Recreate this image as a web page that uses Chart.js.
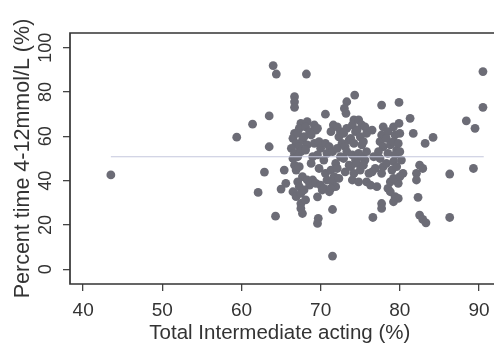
<!DOCTYPE html>
<html>
<head>
<meta charset="utf-8">
<script src="https://cdn.jsdelivr.net/npm/chart.js@4/dist/chart.umd.min.js"></script>
<style>
html,body{margin:0;padding:0;background:#fff;}
#wrap{width:494px;height:352px;position:relative;}
</style>
</head>
<body>
<div id="wrap"><canvas id="c" width="494" height="352"></canvas></div>
<script>
const xTickLabels = [40, 50, 60, 70, 80, 90];
const yTickLabels = [0, 20, 40, 60, 80, 100];
const xAxisTitle = 'Total Intermediate acting (%)';
const yAxisTitle = 'Percent time 4-12mmol/L (%)';

// Total intermediate acting (%) for each patient
const intermediatePct = [
  43.5,59.4,61.4,63.5,64.0,64.4,68.2,90.5,66.7,66.7,66.7,74.3,73.3,73.0,73.2,77.7,79.9,90.5,70.6,81.3,
  88.4,89.5,81.7,84.2,83.2,63.5,89.3,86.3,62.9,62.1,65.0,65.6,64.3,69.6,71.5,69.7,69.6,76.6,77.7,77.7,
  82.3,82.5,82.9,83.3,86.3,71.5,
  82.5,82.9,82.1,82.1,65.4,79.8,79.8,
  66.7,66.5,66.9,66.3,66.7,66.5,66.7,66.9,66.5,66.9,
  67.5,67.3,67.1,67.7,67.3,67.5,67.1,67.3,67.7,67.1,67.3,67.5,67.5,67.5,67.7,
  68.3,68.1,68.6,67.9,68.3,68.1,68.3,68.6,67.9,68.1,
  69.2,69.4,68.8,69.2,69.0,68.8,69.0,69.4,
  69.6,69.8,70.0,69.6,69.8,70.0,70.2,
  70.6,71.1,70.8,70.4,70.6,70.8,70.4,71.1,
  71.6,71.3,71.5,71.9,71.3,71.7,71.5,71.9,71.3,
  72.1,72.5,72.3,72.7,72.1,72.5,72.1,72.3,
  73.3,72.9,73.6,73.1,73.3,72.9,73.6,73.1,
  74.2,74.0,74.4,73.8,74.2,74.0,74.4,73.8,74.2,74.0,
  74.8,75.2,74.6,75.0,75.2,74.8,75.2,74.6,75.0,74.8,
  75.6,75.8,75.4,75.8,75.6,75.4,76.1,75.8,76.3,
  76.5,76.7,76.9,76.5,77.1,
  77.9,77.7,77.5,77.9,77.3,77.5,77.9,77.7,
  78.5,78.3,78.8,78.5,78.3,79.0,78.8,78.5,
  79.2,79.4,79.2,79.6,79.4,79.2,79.6,79.2,78.8,79.4,79.2,
  79.9,80.0,79.8,80.0,80.2,80.4,80.0
];

// Percent time 4-12 mmol/L for each patient
const timeInRangePct = [
  42.6,59.6,65.5,69.2,91.9,88.1,88.1,89.2,77.9,75.6,73.1,78.6,75.6,72.6,70.4,74.1,75.3,73.1,70.0,68.1,
  67.0,63.6,61.3,59.5,56.8,55.3,45.5,43.0,43.9,34.7,36.2,38.8,24.0,32.7,27.0,23.0,20.7,23.4,29.7,27.5,
  32.5,24.5,22.5,21.0,23.4,6.0,
  47.0,45.5,43.3,40.3,44.8,32.0,38.8,
  61.3,59.1,56.8,54.6,52.3,50.0,47.0,44.8,35.0,32.8,
  65.8,63.6,61.3,58.3,55.3,53.1,50.8,46.3,41.8,39.5,37.3,34.3,29.7,27.5,25.2,
  66.6,64.3,62.1,59.8,56.1,53.8,40.3,38.0,35.8,31.3,
  65.1,62.8,60.6,56.8,50.8,47.8,40.3,38.8,
  63.6,57.6,54.6,51.6,45.5,38.0,35.8,
  56.8,55.3,52.3,49.3,43.3,40.3,36.5,35.0,
  65.1,62.1,53.1,47.8,44.8,41.8,39.5,37.3,36.5,
  64.3,62.1,59.8,56.8,54.6,50.8,45.5,41.0,
  63.6,61.3,58.3,55.3,53.1,50.0,47.0,44.0,
  67.4,65.1,62.1,59.1,56.8,51.6,49.3,46.3,43.3,40.3,
  67.4,65.1,62.8,59.8,56.1,52.3,50.8,47.8,44.8,39.5,
  64.3,61.3,57.6,53.1,49.3,47.0,43.3,39.5,38.0,
  62.8,50.8,45.5,44.0,37.3,
  64.3,60.6,57.6,55.3,53.1,50.0,46.3,43.3,
  62.1,59.1,56.1,52.3,47.8,44.8,39.5,36.5,
  64.3,60.6,57.6,53.8,51.6,48.6,46.3,41.0,35.0,32.8,30.5,
  65.8,61.3,56.8,53.1,49.3,43.3,41.8
];

// Fitted (flat) line
const fitLineX = [43.5, 90.6];
const fitLineY = [50.8, 50.8];

const FONT = '"Liberation Sans", Arial, Helvetica, sans-serif';
const TEXT = '#333333';

const points = intermediatePct.map((x, i) => ({x: x, y: timeInRangePct[i]}));
const fitPoints = fitLineX.map((x, i) => ({x: x, y: fitLineY[i]}));

const bgPlugin = {
  id: 'bg',
  beforeDraw(c) {
    const ctx = c.ctx;
    ctx.save();
    ctx.fillStyle = '#ffffff';
    ctx.fillRect(0, 0, c.width, c.height);
    ctx.restore();
  }
};

const framePlugin = {
  id: 'frame',
  afterDraw(c) {
    const {left, top, bottom} = c.chartArea;
    const ctx = c.ctx;
    const w = c.width;
    ctx.save();
    ctx.strokeStyle = '#333333';
    ctx.lineWidth = 1.7;
    ctx.beginPath();
    ctx.moveTo(w, top);
    ctx.lineTo(left, top);
    ctx.lineTo(left, bottom);
    ctx.lineTo(w, bottom);
    ctx.stroke();
    // rotated y tick labels
    const ys = c.scales.y;
    ctx.fillStyle = TEXT;
    ctx.font = '18px ' + FONT;
    ctx.textAlign = 'center';
    ctx.textBaseline = 'middle';
    yTickLabels.forEach(v => {
      const py = ys.getPixelForValue(v);
      ctx.save();
      ctx.translate(46, py);
      ctx.rotate(-Math.PI / 2);
      ctx.fillText(String(v), 0, 0);
      ctx.restore();
    });
    ctx.restore();
  }
};

new Chart(document.getElementById('c'), {
  type: 'scatter',
  data: {
    datasets: [
      {
        data: fitPoints,
        showLine: true,
        borderColor: '#c4c7dd',
        borderWidth: 1.2,
        pointRadius: 0,
        order: 0,
        clip: false
      },
      {
        data: points,
        backgroundColor: '#6c6c76',
        borderWidth: 0,
        pointRadius: 4.4,
        order: 1,
        clip: false
      }
    ]
  },
  options: {
    responsive: false,
    animation: false,
    layout: {padding: {top: 33, right: -5, left: 0, bottom: 0}},
    plugins: {legend: {display: false}, tooltip: {enabled: false}},
    scales: {
      x: {
        type: 'linear',
        min: 38.34,
        max: 91.34,
        afterBuildTicks: s => { s.ticks = xTickLabels.map(v => ({value: v})); },
        afterFit: s => { s.height = 68; s.paddingLeft = 0; s.paddingRight = 0; },
        border: {display: false},
        grid: {drawOnChartArea: false, drawTicks: true, tickLength: 7, color: '#444444', lineWidth: 1.3},
        ticks: {
          font: {size: 19, family: FONT},
          color: TEXT,
          padding: 8,
          maxRotation: 0,
          autoSkip: false,
          callback: v => String(v)
        },
        title: {
          display: true,
          text: xAxisTitle,
          font: {size: 20.5, family: FONT},
          color: TEXT,
          padding: {top: 0, bottom: 6}
        }
      },
      y: {
        type: 'linear',
        min: -6.6,
        max: 106.6,
        afterBuildTicks: s => { s.ticks = yTickLabels.map(v => ({value: v})); },
        afterFit: s => { s.width = 70; s.paddingTop = 0; s.paddingBottom = 0; },
        border: {display: false},
        grid: {drawOnChartArea: false, drawTicks: true, tickLength: 7, color: '#444444', lineWidth: 1.3},
        ticks: {display: false},
        title: {
          display: true,
          text: yAxisTitle,
          font: {size: 21.5, family: FONT},
          color: TEXT,
          padding: {top: 10, bottom: 0}
        }
      }
    }
  },
  plugins: [bgPlugin, framePlugin]
});
</script>
</body>
</html>
